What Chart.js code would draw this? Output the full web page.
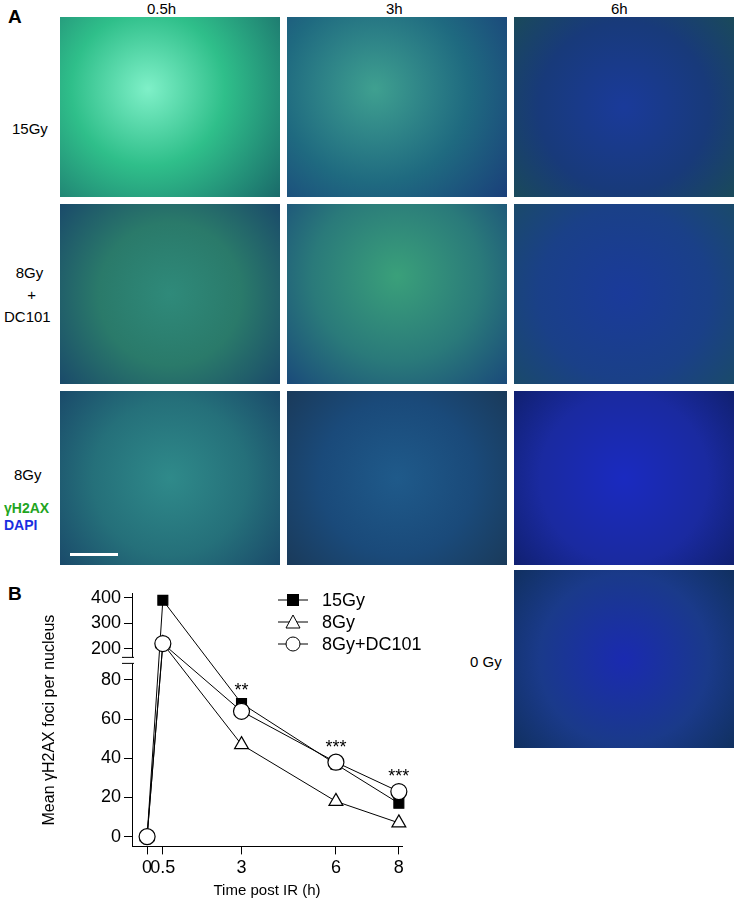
<!DOCTYPE html>
<html><head><meta charset="utf-8">
<script src="https://cdn.jsdelivr.net/npm/chart.js@4"></script>
<style>
body{margin:0;width:735px;height:900px;background:#fff;position:relative;font-family:Arial,"Liberation Sans",sans-serif;overflow:hidden}
.p{position:absolute;width:220px;background:#0a1a6a}
.t{position:absolute;font-size:15px;color:#000}
</style></head><body>
<div class="t" style="left:8px;top:6px;font-weight:bold;font-size:19px">A</div>
<div class="t" style="left:8px;top:583px;font-weight:bold;font-size:19px">B</div>
<div class="t" style="left:147px;top:0px">0.5h</div>
<div class="t" style="left:386px;top:0px">3h</div>
<div class="t" style="left:611px;top:0px">6h</div>
<div class="t" style="left:12px;top:120px">15Gy</div>
<div class="t" style="left:4px;top:262px;text-align:center;line-height:22px">&nbsp;8Gy<br>&nbsp;&nbsp;+<br>DC101</div>
<div class="t" style="left:14px;top:466px">8Gy</div>
<div class="t" style="left:4px;top:500px;color:#1fa51f;font-weight:bold;font-size:14px">γH2AX</div>
<div class="t" style="left:4px;top:517px;color:#1a2ee0;font-weight:bold;font-size:14px">DAPI</div>
<div class="t" style="left:470px;top:653px">0 Gy</div>
<div class="p" style="left:60px;top:17px;height:180px;background:radial-gradient(circle at 40% 40%,#7ff0c8,#2fbf8a 45%,#1a6a6a 100%)"></div>
<div class="p" style="left:287px;top:17px;height:180px;background:radial-gradient(circle at 40% 40%,#3fa090,#1f6a80 55%,#1a3f7a)"></div>
<div class="p" style="left:514px;top:17px;height:180px;background:radial-gradient(circle at 50% 50%,#1a3a9a,#183a7a 60%,#1a4a5a)"></div>
<div class="p" style="left:60px;top:204px;height:180px;background:radial-gradient(circle at 50% 50%,#2f8a7a,#2a7a6a 50%,#1a4a6a)"></div>
<div class="p" style="left:287px;top:204px;height:180px;background:radial-gradient(circle at 50% 40%,#3aa07a,#2a7a7a 55%,#1a4a7a)"></div>
<div class="p" style="left:514px;top:204px;height:180px;background:radial-gradient(circle at 50% 50%,#1a3a9a,#1a4088 60%,#1a4a6a)"></div>
<div class="p" style="left:60px;top:391px;height:174px;background:radial-gradient(circle at 50% 50%,#2f8a8a,#25707a 55%,#1a4a6a)"></div>
<div class="p" style="left:287px;top:391px;height:174px;background:radial-gradient(circle at 50% 50%,#1f5a8a,#1a4a7a 55%,#1a3a5a)"></div>
<div class="p" style="left:514px;top:391px;height:174px;background:radial-gradient(circle at 50% 50%,#1a2ac0,#1a2aa0 60%,#102070)"></div>
<div class="p" style="left:514px;top:570px;height:178px;background:radial-gradient(circle at 50% 50%,#1a2ab0,#1a3a8a 60%,#103060)"></div>
<div style="position:absolute;left:70px;top:553px;width:48px;height:3px;background:#fff"></div>
<canvas id="c" style="position:absolute;left:40px;top:580px;width:430px;height:320px"></canvas>
<script>
const times=[0,0.5,3,6,8];
const gy15=[0,390,68,37,17];
const gy8=[0,220,47,18,7];
const gy8dc=[0,220,64,38,23];
const yTickVals=[0,20,40,60,80,200,300,400];
const xTickVals=[0,0.5,3,6,8];
const stars=[{x:3,v:76,s:'**'},{x:6,v:47,s:'***'},{x:8,v:32,s:'***'}];
const names=['15Gy','8Gy','8Gy+DC101'];
function tr(v){return v<=100?v:96+(v-200)*0.13;}
function lbl(t){for(const v of yTickVals){if(Math.abs(tr(v)-t)<0.01)return String(v);}return '';}
function mk(arr){return times.map((t,i)=>({x:t,y:tr(arr[i])}));}
const styles=[{ps:'rect',bg:'#000',r:7},{ps:'triangle',bg:'#fff',r:8},{ps:'circle',bg:'#fff',r:8}];
const sets=[gy15,gy8,gy8dc].map((a,i)=>({label:names[i],data:mk(a),clip:false,borderColor:'#000',borderWidth:1,backgroundColor:styles[i].bg,pointStyle:styles[i].ps,pointRadius:styles[i].r,pointBorderColor:'#000',pointBorderWidth:1.2}));
sets.reverse();
const extra={id:'extra',afterDraw(ch){const c=ch.ctx,xs=ch.scales.x,ys=ch.scales.y;c.save();c.fillStyle='#000';c.font='18px Arial';c.textAlign='center';
for(const s of stars)c.fillText(s.s,xs.getPixelForValue(s.x),ys.getPixelForValue(s.v)+8);
c.textAlign='left';c.font='18px Arial';
names.forEach((n,i)=>{const y=20+i*22;c.strokeStyle='#000';c.lineWidth=1;c.beginPath();c.moveTo(238,y);c.lineTo(268,y);c.stroke();
const st=styles[i];c.fillStyle=st.bg;c.beginPath();
if(i==0){c.fillRect(247,y-6,12,12);}else if(i==1){c.moveTo(253,y-7);c.lineTo(260,y+6);c.lineTo(246,y+6);c.closePath();c.fill();c.stroke();}else{c.arc(253,y,7,0,7);c.fill();c.stroke();}
c.fillStyle='#000';c.fillText(n,282,y+6);});
const yb=ys.getPixelForValue(90);c.fillStyle='#fff';c.fillRect(xs.left-12,yb-3,14,6);c.strokeStyle='#000';c.beginPath();c.moveTo(xs.left-10,yb-3);c.lineTo(xs.left+2,yb-3);c.moveTo(xs.left-10,yb+3);c.lineTo(xs.left+2,yb+3);c.stroke();
c.restore();}};
new Chart(document.getElementById('c'),{type:'line',data:{datasets:sets},plugins:[extra],
options:{responsive:false,animation:false,devicePixelRatio:1,layout:{padding:{top:13,right:68,left:0,bottom:0}},
plugins:{legend:{display:false},tooltip:{enabled:false}},
scales:{x:{type:'linear',min:-0.48,max:8.1,grid:{drawOnChartArea:false,color:'#000',tickLength:8},border:{color:'#000'},
afterBuildTicks:s=>{s.ticks=xTickVals.map(v=>({value:v}));},
ticks:{color:'#000',font:{size:18},callback:v=>String(v),maxRotation:0,autoSkip:false},
title:{display:true,text:'Time post IR (h)',color:'#000',font:{size:15},padding:0}},
y:{min:-5,max:124,grid:{drawOnChartArea:false,color:'#000',tickLength:8},border:{color:'#000'},
afterBuildTicks:s=>{s.ticks=yTickVals.map(v=>({value:tr(v)}));},
afterFit:s=>{s.width=92;},
ticks:{color:'#000',font:{size:18},callback:v=>lbl(v),autoSkip:false},
title:{display:true,text:'Mean γH2AX foci per nucleus',color:'#000',font:{size:16},padding:0}}}}});
</script></body></html>
